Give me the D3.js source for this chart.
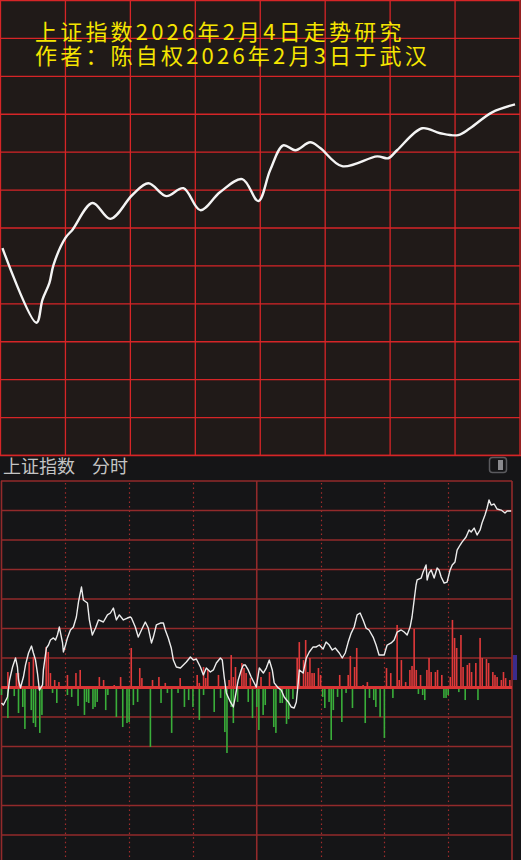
<!DOCTYPE html>
<html>
<head>
<meta charset="utf-8">
<script src="https://cdn.jsdelivr.net/npm/d3@7"></script>
<style>
  body { margin: 0; background: #151517; }
  svg { display: block; }
</style>
</head>
<body>
<div id="chart"></div>
<script>
// forecast curve (top): [minute of session, level in grid rows]
const forecast = [[0.9,5.47],[16.6,3.5],[19.4,4.11],[22.6,4.55],[24.5,5.03],[30,5.74],[33.2,5.95],[42.5,6.66],
  [50.8,6.24],[60.9,6.87],[68.3,7.18],[76.6,6.84],[84.5,7.05],[92.3,6.47],[101.5,6.95],[111.7,7.29],[119.1,6.71],
  [124.6,7.53],[130.6,8.18],[136.2,8.05],[143.1,8.26],[147.7,8.11],[157.8,7.63],[174,7.89],[179.1,7.84],[183.2,8.05],
  [194.8,8.63],[203.1,8.5],[211.4,8.45],[216.9,8.63],[227.1,9.05],[237.7,9.26]];

// actual intraday line (bottom): [minute, change %]
const priceLine = [[0,-0.105],[0.9,-0.119],[2.8,-0.064],[3.8,0.051],[5.2,0.139],[6.6,0.2],[7.5,0.139],[8,0.051],
  [8.9,-0.003],[10.3,0.071],[11.3,0.153],[12.7,0.234],[14.1,0.281],[15,0.234],[16,0.186],[16.9,0.098],[17.8,-0.017],
  [19.3,0.017],[19.7,0.119],[21.1,0.268],[22.1,0.288],[23,0.322],[24.4,0.336],[25.4,0.322],[26.3,0.356],[27.2,0.41],
  [28.7,0.302],[29.1,0.241],[30.1,0.288],[31,0.336],[32.4,0.39],[33.8,0.41],[35.2,0.478],[36.2,0.58],[37.6,0.681],
  [38.5,0.593],[40.4,0.573],[41.3,0.458],[42.7,0.356],[44.2,0.403],[45.6,0.458],[47.9,0.444],[49.8,0.492],[51.2,0.505],
  [52.6,0.539],[54,0.458],[55.4,0.492],[57.3,0.458],[59.2,0.471],[60.6,0.478],[61.1,0.471],[62.9,0.41],[64.3,0.342],
  [65.8,0.39],[67.6,0.444],[69,0.403],[70.5,0.302],[71.4,0.342],[72.8,0.424],[74.7,0.437],[76.1,0.437],[77,0.39],
  [78.4,0.336],[79.8,0.268],[80.8,0.186],[82.2,0.139],[84.1,0.132],[85.5,0.153],[86.9,0.173],[88.8,0.207],[90.2,0.186],
  [91.6,0.193],[93.5,0.139],[94.9,0.085],[96.3,0.132],[98.2,0.105],[99.6,0.119],[101,0.166],[102.9,0.2],[103.8,0.186],
  [104.7,0.071],[105.7,-0.037],[107.6,-0.098],[109,-0.132],[109.9,-0.064],[111.3,0.051],[112.7,0.119],[113.7,0.153],
  [114.6,0.153],[116,0.119],[117.4,0.071],[119.3,0.017],[119.8,0.003],[121.2,0.132],[123.1,0.098],[124.5,0.132],
  [125.9,0.186],[127.3,0.119],[128.2,0.031],[130.1,-0.003],[131.5,-0.017],[132.9,-0.064],[134.8,-0.098],[136.2,-0.132],
  [137.6,-0.139],[138.6,-0.098],[139.5,0.031],[140,0.119],[141.8,0.098],[143.3,0.2],[144.7,0.241],[146.5,0.275],
  [148,0.275],[149.4,0.288],[151.2,0.261],[152.6,0.308],[154.1,0.288],[155.5,0.254],[156.9,0.268],[158.8,0.234],
  [160.2,0.2],[161.6,0.234],[163,0.308],[164.4,0.369],[165.8,0.41],[167.2,0.492],[168.6,0.505],[170,0.458],[171.4,0.403],
  [172.8,0.39],[174.7,0.342],[176.1,0.288],[177.5,0.22],[179.9,0.22],[181.3,0.288],[183.2,0.302],[184.6,0.322],
  [186,0.376],[187.9,0.39],[189.3,0.376],[190.7,0.356],[192.1,0.41],[193,0.478],[194,0.593],[194.9,0.695],[195.4,0.729],
  [197.3,0.742],[198.2,0.783],[199.6,0.831],[200.1,0.729],[201,0.776],[202,0.797],[203.4,0.742],[204.8,0.81],
  [205.7,0.797],[206.7,0.749],[208.1,0.708],[209.5,0.715],[210.9,0.797],[211.9,0.831],[213.2,0.851],[214.2,0.932],
  [215.6,0.966],[216.5,0.986],[218.4,1.02],[219.8,1.068],[220.8,1.054],[222.2,1.081],[223.6,1.034],[225,1.068],
  [225.9,1.115],[227.3,1.169],[228.3,1.217],[229.2,1.271],[230.2,1.237],[231.6,1.244],[233,1.21],[234.9,1.203],
  [236.7,1.183],[237.7,1.197],[239.6,1.197]];

// red / green bars: [minute, value]
const upBars = [[3,0.105],[7,0.098],[8,0.098],[13,0.173],[15,0.207],[21,0.275],[22,0.241],[23,0.098],[25,0.051],
  [27,0.037],[31,0.085],[35,0.098],[37,0.119],[46,0.071],[48,0.051],[53,0.017],[56,0.071],[61,0.268],[65,0.132],
  [66,0.064],[71,0.051],[74,0.071],[77,0.031],[84,0.064],[92,0.085],[93,0.031],[95,0.139],[96,0.064],[97,0.119],
  [102,0.085],[107,0.051],[108,0.22],[109,0.071],[110,0.139],[113,0.166],[114,0.132],[115,0.098],[117,0.064],
  [122,0.071],[126,0.105],[139,0.2],[140,0.308],[142,0.186],[143,0.322],[144,0.105],[145,0.2],[146,0.098],[147,0.098],
  [149,0.132],[150,0.085],[159,0.085],[163,0.085],[164,0.214],[166,0.139],[167,0.268],[170,0.017],[172,0.037],
  [181,0.132],[183,0.098],[186,0.424],[187,0.051],[188,0.186],[190,0.037],[192,0.119],[193,0.146],[194,0.397],
  [195,0.119],[197,0.085],[200,0.119],[201,0.2],[202,0.105],[204,0.105],[205,0.119],[207,0.085],[211,0.071],
  [212,0.458],[213,0.336],[214,0.268],[216,0.356],[217,0.139],[219,0.153],[220,0.166],[221,0.105],[223,0.166],
  [225,0.336],[226,0.2],[228,0.193],[229,0.166],[231,0.105],[232,0.085],[233,0.071],[235,0.051],[236,0.105],
  [237,0.064],[239,0.051]];
const downBars = [[0,-0.051],[3,-0.207],[6,-0.058],[8,-0.173],[10,-0.132],[11,-0.281],[14,-0.153],[15,-0.241],
  [16,-0.268],[18,-0.308],[19,-0.186],[24,-0.037],[26,-0.105],[31,-0.051],[33,-0.064],[36,-0.125],[39,-0.186],
  [40,-0.098],[41,-0.105],[43,-0.146],[44,-0.132],[45,-0.098],[49,-0.153],[50,-0.051],[54,-0.2],[57,-0.268],
  [59,-0.241],[60,-0.234],[62,-0.119],[64,-0.098],[70,-0.403],[75,-0.105],[78,-0.037],[80,-0.308],[83,-0.037],
  [86,-0.132],[88,-0.085],[90,-0.132],[93,-0.22],[95,-0.051],[100,-0.166],[103,-0.071],[105,-0.302],[106,-0.444],
  [108,-0.132],[109,-0.241],[111,-0.098],[116,-0.098],[118,-0.207],[120,-0.132],[121,-0.288],[123,-0.186],
  [124,-0.119],[128,-0.268],[129,-0.308],[131,-0.105],[132,-0.105],[134,-0.247],[135,-0.214],[137,-0.078],
  [151,-0.064],[152,-0.139],[154,-0.098],[155,-0.356],[156,-0.153],[158,-0.064],[160,-0.234],[162,-0.037],
  [165,-0.139],[171,-0.241],[173,-0.071],[175,-0.085],[176,-0.132],[178,-0.2],[180,-0.342],[184,-0.071],
  [196,-0.044],[198,-0.051],[199,-0.085],[208,-0.071],[209,-0.071],[210,-0.051],[215,-0.031],[218,-0.085],[224,-0.085]];

const titleLines = ["上证指数2026年2月4日走势研究", "作者：陈自权2026年2月3日于武汉"];
const header = ["上证指数", "分时"];

const W = 521, H = 860;
let svg = d3.select("#chart").append("svg").attr("width", W).attr("height", H);

// ---------- top panel ----------
svg.append("rect").attr("x", 0).attr("y", 0).attr("width", W).attr("height", 456).attr("fill", "#201a18");

let tx = d3.scaleLinear().domain([0, 240]).range([0.5, 520]);
let ty = d3.scaleLinear().domain([0, 12]).range([455.5, 0.5]);

let topGrid = svg.append("g").attr("stroke", "#d62527").attr("stroke-width", 1.3);
topGrid.selectAll("line.v").data(d3.range(0, 241, 30)).enter().append("line")
  .attr("x1", d => tx(d)).attr("x2", d => tx(d)).attr("y1", 0).attr("y2", 456);
topGrid.selectAll("line.h").data(d3.range(0, 13)).enter().append("line")
  .attr("x1", 0).attr("x2", 520).attr("y1", d => ty(d)).attr("y2", d => ty(d));

svg.append("path").datum(forecast)
  .attr("d", d3.line().x(d => tx(d[0])).y(d => ty(d[1])).curve(d3.curveCatmullRom.alpha(0.5)))
  .attr("fill", "none").attr("stroke", "#f4f4f4").attr("stroke-width", 2.4).attr("stroke-linejoin", "round");

svg.append("g").selectAll("text").data(titleLines).enter().append("text")
  .attr("x", 35).attr("y", (d, i) => 39.5 + i * 24.5)
  .attr("fill", "#f5e500")
  .style("font-family", "'Noto Sans CJK SC', sans-serif")
  .style("font-size", "22px")
  .style("letter-spacing", "3.2px")
  .text(d => d);

// ---------- bottom panel ----------
svg.append("rect").attr("x", 0).attr("y", 456).attr("width", W).attr("height", H - 456).attr("fill", "#151517");
svg.append("line").attr("x1", 0).attr("x2", 521).attr("y1", 455.5).attr("y2", 455.5)
  .attr("stroke", "#d62527").attr("stroke-width", 1.3);

svg.append("text").attr("x", 3).attr("y", 473).attr("fill", "#c4c4c4")
  .style("font-family", "'Noto Sans CJK SC', sans-serif").style("font-size", "18px").text(header[0]);
svg.append("text").attr("x", 92).attr("y", 473).attr("fill", "#c4c4c4")
  .style("font-family", "'Noto Sans CJK SC', sans-serif").style("font-size", "18px").text(header[1]);

// small toggle icon
svg.append("rect").attr("x", 489.5).attr("y", 457.5).attr("width", 17).attr("height", 15).attr("rx", 3)
  .attr("fill", "none").attr("stroke", "#5a5a5e").attr("stroke-width", 1.5);
svg.append("rect").attr("x", 498).attr("y", 460).attr("width", 5).attr("height", 10).attr("fill", "#8a8a8e");

let x = d3.scaleLinear().domain([0, 240]).range([1.5, 512]);
let y = d3.scaleLinear().domain([-1.4, 1.4]).range([894, 481]);

let plot = svg.append("g");
let gridColor = "#922a2b";

// dotted verticals
plot.selectAll("line.dot").data([30, 60, 90, 150, 180, 210]).enter().append("line")
  .attr("x1", d => Math.round(x(d)) + 0.5).attr("x2", d => Math.round(x(d)) + 0.5)
  .attr("y1", 483).attr("y2", H)
  .attr("stroke", "#a02c2c").attr("stroke-width", 1.2).attr("stroke-dasharray", "1.5,3.1");

// solid horizontals
plot.selectAll("line.h").data(d3.range(-7, 8).map(i => i * 0.2).filter(v => Math.abs(v) > 1e-9)).enter().append("line")
  .attr("x1", 1).attr("x2", 512)
  .attr("y1", d => y(d)).attr("y2", d => y(d))
  .attr("stroke", gridColor).attr("stroke-width", 1.6);

// solid verticals: borders and midday
plot.selectAll("line.v").data([0, 120, 240]).enter().append("line")
  .attr("x1", d => x(d)).attr("x2", d => x(d))
  .attr("y1", 481).attr("y2", H)
  .attr("stroke", gridColor).attr("stroke-width", 1.6);

// bars
let bw = 1.6;
plot.append("g").selectAll("rect").data(downBars).enter().append("rect")
  .attr("x", d => x(d[0]) - bw / 2).attr("width", bw)
  .attr("y", y(0)).attr("height", d => y(d[1]) - y(0))
  .attr("fill", "#3aae3a");
plot.append("g").selectAll("rect").data(upBars).enter().append("rect")
  .attr("x", d => x(d[0]) - bw / 2).attr("width", bw)
  .attr("y", d => y(d[1])).attr("height", d => y(0) - y(d[1]))
  .attr("fill", "#e0393a");

// zero line
plot.append("line").attr("x1", 1).attr("x2", 512).attr("y1", y(0)).attr("y2", y(0))
  .attr("stroke", "#d83535").attr("stroke-width", 3.2);

// price line
plot.append("path").datum(priceLine)
  .attr("d", d3.line().x(d => x(d[0])).y(d => y(d[1])))
  .attr("fill", "none").attr("stroke", "#ececec").attr("stroke-width", 1.4).attr("stroke-linejoin", "round");

// small marker at right edge
svg.append("rect").attr("x", 513).attr("y", 655).attr("width", 4).attr("height", 25).attr("fill", "#3b2c8c");
</script>
</body>
</html>
